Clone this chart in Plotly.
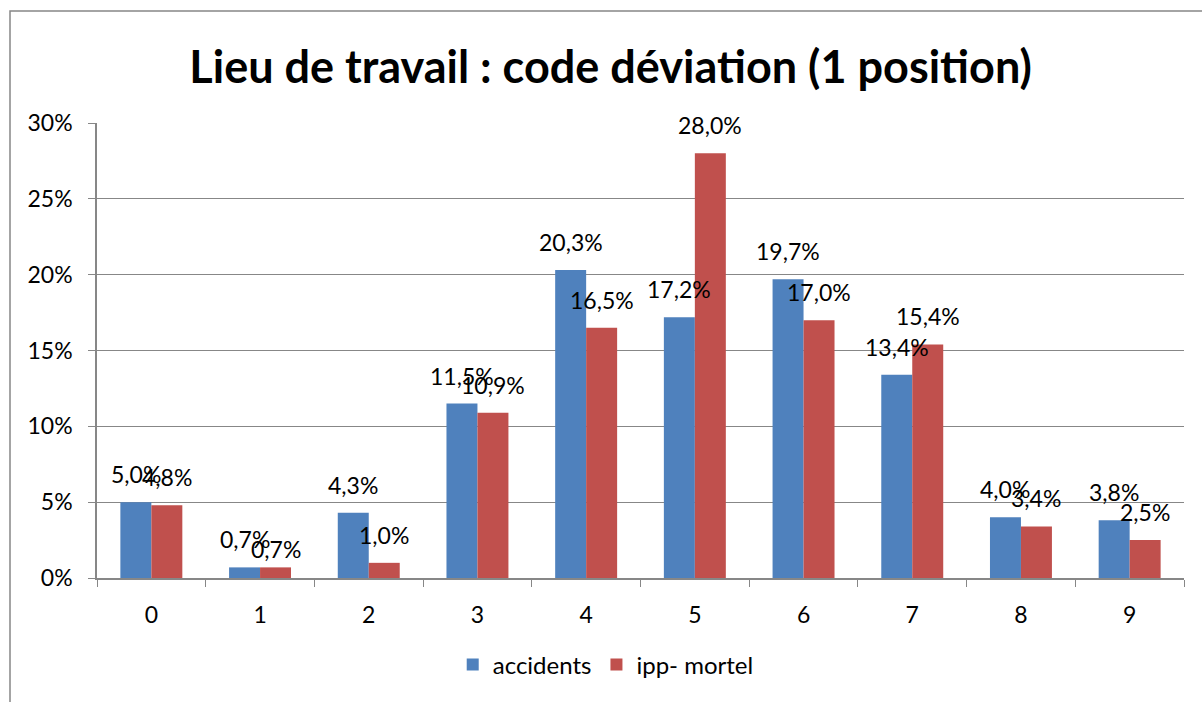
import plotly.graph_objects as go

categories = ["0", "1", "2", "3", "4", "5", "6", "7", "8", "9"]
accidents = [5.0, 0.7, 4.3, 11.5, 20.3, 17.2, 19.7, 13.4, 4.0, 3.8]
ipp_mortel = [4.8, 0.7, 1.0, 10.9, 16.5, 28.0, 17.0, 15.4, 3.4, 2.5]
y_ticks = [0, 5, 10, 15, 20, 25, 30]

FONT = "Lato, 'Liberation Sans', sans-serif"
W, H = 1202, 702
ML, MR, MT, MB = 97, 18, 123, 124
BARGAP = 0.43
# label vertical offsets (px) for the red series; one label sits lower in the reference
red_label_shift = {"1": 2}


def fmt(v):
    return f"{v:.1f}%".replace(".", ",")


fig = go.Figure()
fig.add_trace(go.Bar(
    x=categories, y=[v / 100 for v in accidents], name="accidents",
    marker=dict(color="#4F81BD", line=dict(width=0)),
))
fig.add_trace(go.Bar(
    x=categories, y=[v / 100 for v in ipp_mortel], name="ipp- mortel",
    marker=dict(color="#C0504D", line=dict(width=0)),
))

# data labels drawn above all bars (annotations in data coordinates)
cat_px = (W - ML - MR) / len(categories)
half_bar = cat_px * (1 - BARGAP) / 4
annotations = []
for series, shift, is_red in ((accidents, -half_bar, False), (ipp_mortel, half_bar, True)):
    for c, v in zip(categories, series):
        ys = red_label_shift.get(c, 12) if is_red else 12
        annotations.append(dict(
            x=c, y=v / 100, xref="x", yref="y", text=fmt(v), showarrow=False,
            xanchor="center", yanchor="bottom", xshift=shift, yshift=ys,
            font=dict(family=FONT, size=23, color="#000000"),
        ))

fig.update_layout(
    width=W, height=H,
    margin=dict(l=ML, r=MR, t=MT, b=MB),
    paper_bgcolor="white", plot_bgcolor="white",
    barmode="group", bargap=BARGAP, bargroupgap=0,
    font=dict(family=FONT, size=23, color="#000000"),
    title=dict(text="<b>Lieu de travail : code déviation (1 position)</b>",
               x=0.508, xanchor="center", y=1 - 67 / H, yanchor="middle",
               font=dict(family=FONT, size=45, color="#000000")),
    legend=dict(orientation="h", x=0.468, xanchor="center", y=-0.191, yanchor="middle",
                font=dict(family=FONT, size=24), itemwidth=30, traceorder="normal"),
    showlegend=True,
    annotations=annotations,
    shapes=[dict(type="rect", xref="paper", yref="paper",
                 x0=(10 - ML) / (W - ML - MR), x1=1.3, y0=-0.6,
                 y1=1 + (MT - 11) / (H - MT - MB),
                 line=dict(color="#878787", width=1.5), fillcolor="rgba(0,0,0,0)", layer="below")],
)

fig.update_yaxes(
    range=[0, 0.30], tickvals=[t / 100 for t in y_ticks],
    ticktext=[f"{t}%" for t in y_ticks],
    showgrid=True, gridcolor="#878787", gridwidth=1.2,
    showline=True, linecolor="#878787", linewidth=1.5,
    ticks="outside", ticklen=7, tickcolor="#878787",
    tickfont=dict(family=FONT, size=23), ticklabelstandoff=11,
    zeroline=False,
)
fig.update_xaxes(
    showline=True, linecolor="#878787", linewidth=1.5,
    ticks="outside", tickson="boundaries", ticklen=7, tickcolor="#878787",
    tickfont=dict(family=FONT, size=23), ticklabelstandoff=16,
    showgrid=False,
)

fig.write_html("out.html", config={"displayModeBar": False},
               post_script="document.body.style.margin='0';")
